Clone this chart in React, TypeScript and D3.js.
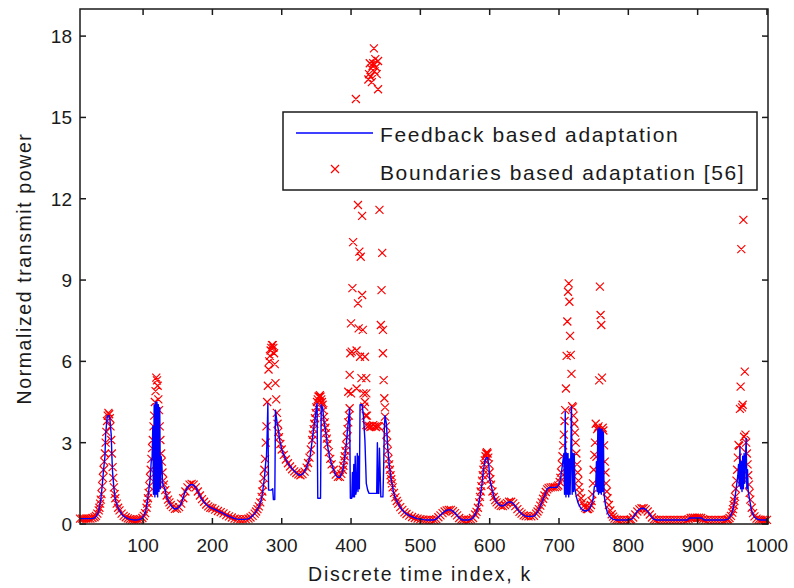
import React from "react";
import * as d3 from "d3";

// Feedback based adaptation: transmit power per discrete time index k
const feedbackPower: [number, number][] = [
  [9,0.2],[14,0.2],[18,0.2],[22,0.2],[26,0.2],[30,0.22],[33,0.3],[35,0.4],[37,0.6],[39,0.9],[41,1.4],[43,2.0],[45,2.5],[46,3.3],[47,3.6],[48,3.9],[49,4.0],[51,4.0],[52,3.9],[53,3.6],[54,3.3],[55,2.5],[56,1.9],[57,1.6],[58,1.3],[60,0.9],[63,0.65],[66,0.5],[70,0.33],[74,0.25],[78,0.2],[82,0.17],[86,0.15],[90,0.15],[94,0.16],[98,0.2],
  [101,0.3],[104,0.5],[106,0.8],[108,1.2],[110,1.6],[111,2.0],[112,2.4],[113,2.4],[114,3.6],[115,1.1],[116,4.4],[117,1.0],[118,4.5],[119,1.1],[120,4.5],[121,1.0],[122,4.4],[123,1.2],[124,4.3],[125,1.3],[126,2.5],[127,2.3],[128,1.6],[129,1.4],[131,1.35],[134,1.0],[138,0.78],[142,0.62],[146,0.55],[150,0.58],[154,0.7],[157,0.9],[160,1.15],[164,1.35],[168,1.45],[172,1.45],[176,1.35],[180,1.15],[184,0.95],[188,0.8],[192,0.7],[196,0.62],
  [200,0.58],[205,0.52],[210,0.46],[215,0.4],[220,0.33],[225,0.27],[230,0.22],[235,0.18],[240,0.17],[245,0.17],[250,0.18],[254,0.22],[258,0.3],[262,0.42],[265,0.55],[268,0.7],[271,0.95],[273,1.3],[275,1.7],[277,2.3],[278,2.5],[279,3.3],[280,4.45],[281,1.25],[285,1.25],[287,1.3],[288,0.9],[290,0.9],[291,4.2],[293,3.8],[295,3.5],[297,3.1],
  [300,2.75],[303,2.55],[306,2.38],[309,2.24],[313,2.1],[317,1.98],[321,1.88],[325,1.8],[329,1.82],[332,1.9],[335,2.05],[338,2.25],[341,2.5],[344,3.1],[346,3.5],[348,3.85],[350,4.33],[351,4.45],[352,0.95],[356,0.95],[357,4.4],[359,4.3],[361,3.8],[363,3.5],[365,3.1],[367,2.75],[369,2.48],[372,2.2],[375,2.0],[378,1.8],[381,1.72],[384,1.72],[387,1.9],[389,2.1],[391,2.5],[393,2.9],[395,3.5],[397,4.0],[398,4.27],[399,0.95],
  [401,0.95],[402,1.9],[403,1.0],[404,2.2],[405,1.0],[406,2.5],[407,1.1],[408,1.3],[409,2.6],[410,1.2],[411,2.5],[412,1.3],[413,4.4],[416,4.4],[418,3.96],[420,3.1],[422,1.5],[424,1.25],[426,1.13],[437,1.13],[438,3.0],[439,1.13],[440,1.13],[441,2.8],[443,1.0],[446,1.0],[447,2.0],[448,3.5],[449,4.0],[451,3.7],[453,2.8],[455,2.2],[457,1.8],[459,1.5],[461,1.2],[464,0.95],[468,0.75],[472,0.58],[476,0.45],[480,0.37],[485,0.3],[490,0.25],[495,0.2],
  [500,0.18],[505,0.16],[510,0.15],[515,0.15],[520,0.15],[524,0.2],[528,0.3],[532,0.4],[536,0.48],[540,0.52],[544,0.52],[548,0.45],[552,0.35],[556,0.22],[560,0.15],[565,0.15],[570,0.15],[575,0.2],[579,0.35],[583,0.6],[586,1.0],[589,1.5],[591,2.0],[593,2.3],[595,2.45],[597,2.45],[599,2.1],
  [600,1.65],[602,1.45],[604,1.2],[607,0.95],[610,0.8],[614,0.7],[618,0.66],[622,0.7],[626,0.8],[630,0.82],[634,0.75],[638,0.62],[642,0.48],[646,0.38],[650,0.3],[655,0.28],[660,0.28],[665,0.3],[669,0.45],[672,0.6],[676,0.85],[680,1.1],[683,1.3],[687,1.35],[692,1.35],[697,1.35],
  [700,1.45],[702,1.65],[704,2.0],[706,2.4],[707,2.6],[708,1.1],[709,4.14],[710,1.0],[711,2.6],[712,1.1],[713,2.6],[714,1.0],[715,2.4],[716,1.1],[717,2.5],[718,4.33],[719,1.1],[720,2.6],[721,1.2],[722,2.6],[723,1.3],[725,1.0],[728,0.75],[731,0.6],[735,0.5],[739,0.48],[743,0.52],[746,0.65],[749,0.9],[751,1.38],[753,1.4],[754,2.3],[755,1.2],[756,3.5],[757,1.1],[758,3.55],[759,1.15],[760,3.5],[761,1.1],[762,3.5],[763,1.2],[764,3.4],[765,1.1],[767,0.7],[770,0.4],[774,0.25],[778,0.17],[782,0.15],[786,0.15],[790,0.15],[795,0.15],
  [800,0.15],[805,0.18],[808,0.28],[811,0.4],[814,0.5],[818,0.57],[822,0.58],[826,0.52],[830,0.4],[833,0.28],[836,0.18],[840,0.15],[845,0.15],[850,0.15],[855,0.15],[860,0.15],[865,0.15],[870,0.15],[875,0.15],[880,0.15],[886,0.15],[888,0.22],[894,0.22],
  [900,0.22],[906,0.22],[909,0.15],[915,0.15],[920,0.15],[925,0.15],[930,0.15],[935,0.15],[940,0.15],[944,0.18],[947,0.28],[950,0.45],[953,0.8],[955,1.2],[957,1.6],[958,1.8],[959,2.2],[960,1.4],[961,2.85],[962,1.3],[963,2.3],[964,1.2],[965,2.5],[966,1.3],[967,2.6],[968,1.5],[969,2.4],[970,3.16],[971,1.3],[972,2.0],[973,1.2],[975,0.9],[977,0.6],[979,0.4],[982,0.25],[986,0.18],[990,0.15],[995,0.15],[1000,0.15],
];

// Boundaries based adaptation [56]: transmit power per discrete time index k
const boundaryPower: [number, number][] = [
  [9,0.2],[12,0.2],[15,0.2],[18,0.2],[21,0.2],[24,0.2],[27,0.22],[30,0.25],[32,0.3],[34,0.38],[36,0.5],[37,0.6],[38,0.75],[39,0.9],[40,1.1],[41,1.4],[42,1.7],[43,2.0],[44,2.3],[45,2.6],[46,3.0],[47,3.4],[48,3.8],[49,4.0],[50,4.1],[51,4.05],[52,3.9],[53,3.6],[54,3.1],[55,2.6],[56,2.1],[57,1.7],[58,1.35],[59,1.1],[60,0.95],[62,0.75],[64,0.6],[66,0.5],[69,0.38],[72,0.3],[75,0.25],[78,0.21],[81,0.18],[84,0.16],[87,0.15],[90,0.15],[93,0.16],[96,0.18],[99,0.22],
  [101,0.3],[103,0.4],[105,0.6],[106,0.75],[107,0.95],[108,1.15],[109,1.4],[110,1.7],[111,2.0],[112,2.4],[113,2.8],[114,3.1],[115,3.6],[116,4.0],[117,4.5],[118,4.9],[119,5.4],[120,5.3],[121,5.1],[122,4.6],[123,4.2],[124,3.6],[125,3.1],[126,2.6],[127,2.3],[128,1.9],[129,1.6],[130,1.45],[132,1.25],[134,1.05],[136,0.9],[138,0.8],[140,0.7],[143,0.62],[146,0.56],[149,0.57],[152,0.62],[155,0.75],[158,0.95],[161,1.2],[164,1.35],[167,1.45],[170,1.48],[173,1.45],[176,1.35],[179,1.2],[182,1.05],[185,0.92],[188,0.82],[191,0.72],[194,0.65],[197,0.6],
  [200,0.58],[204,0.53],[208,0.48],[212,0.44],[216,0.39],[220,0.33],[224,0.28],[228,0.24],[232,0.2],[236,0.18],[240,0.17],[244,0.17],[248,0.18],[252,0.2],[255,0.24],[258,0.3],[261,0.38],[263,0.46],[265,0.55],[267,0.65],[269,0.8],[271,1.0],[272,1.2],[273,1.45],[274,1.7],[275,2.0],[276,2.4],[277,3.0],[278,3.6],[279,4.5],[280,5.1],[281,5.7],[282,6.0],[283,6.2],[284,6.4],[285,6.5],[286,6.6],[287,6.6],[288,6.5],[289,6.3],[290,5.9],[291,5.2],[292,4.6],[293,4.1],[294,3.7],[295,3.4],[296,3.2],[298,2.95],
  [300,2.75],[303,2.55],[306,2.38],[309,2.24],[312,2.12],[315,2.02],[318,1.94],[321,1.88],[324,1.83],[327,1.8],[330,1.84],[333,1.93],[336,2.08],[338,2.25],[340,2.45],[342,2.75],[344,3.1],[345,3.3],[346,3.5],[347,3.7],[348,3.9],[349,4.1],[350,4.3],[351,4.5],[352,4.6],[353,4.7],[354,4.7],[355,4.75],[356,4.7],[357,4.6],[358,4.5],[359,4.4],[360,4.2],[361,3.95],[362,3.75],[363,3.55],[364,3.35],[365,3.15],[366,2.95],[368,2.65],[370,2.4],[372,2.2],[375,2.0],[378,1.82],[381,1.74],[384,1.74],[386,1.85],[388,2.0],[389,2.15],[390,2.35],[391,2.5],[392,2.7],[393,2.9],[394,3.2],[395,3.5],[396,3.75],[397,4.0],
  [422,3.65],[424,3.6],[426,3.62],[428,3.58],[430,3.6],[432,3.65],[434,3.6],[436,3.58],[438,3.62],[440,3.6],
  [450,3.6],[451,3.3],[452,3.0],[453,2.7],[454,2.4],[455,2.2],[456,2.0],[457,1.8],[458,1.65],[459,1.5],[460,1.35],[462,1.15],[464,0.98],[466,0.85],[468,0.75],[471,0.62],[474,0.52],[477,0.43],[480,0.37],[484,0.31],[488,0.26],[492,0.22],[496,0.2],
  [500,0.18],[504,0.16],[508,0.15],[512,0.15],[516,0.15],[520,0.15],[523,0.18],[526,0.25],[529,0.32],[532,0.4],[535,0.46],[538,0.5],[541,0.52],[544,0.52],[547,0.47],[550,0.4],[553,0.32],[556,0.22],[559,0.16],[562,0.15],[566,0.15],[570,0.15],[573,0.17],[576,0.22],[579,0.35],[581,0.45],[583,0.6],[585,0.8],[586,1.0],[587,1.2],[588,1.4],[589,1.6],[590,1.8],[591,2.0],[592,2.2],[593,2.35],[594,2.5],[595,2.6],[596,2.65],[597,2.6],[598,2.45],[599,2.2],
  [600,1.9],[601,1.65],[602,1.45],[604,1.2],[606,1.0],[608,0.88],[610,0.8],[613,0.72],[616,0.67],[619,0.66],[622,0.7],[625,0.77],[628,0.82],[631,0.82],[634,0.76],[637,0.66],[640,0.55],[643,0.45],[646,0.38],[649,0.32],[652,0.29],[656,0.28],[660,0.28],[664,0.3],[667,0.38],[669,0.46],[671,0.55],[673,0.68],[675,0.8],[677,0.93],[679,1.05],[681,1.18],[683,1.28],[685,1.33],[688,1.35],[691,1.36],[694,1.36],[697,1.38],[699,1.42],
  [701,1.55],[702,1.7],[703,1.9],[704,2.2],[705,2.5],[706,2.9],[707,3.3],[708,3.8],[709,4.2],[710,5.0],[711,6.2],[712,7.47],[713,8.57],[714,8.88],[715,8.2],[716,6.94],[717,6.24],[718,5.54],[719,4.35],[720,4.3],[721,4.0],[722,3.7],[723,3.37],[724,3.0],[725,2.6],[726,2.2],[727,1.9],[728,1.6],[729,1.35],[730,1.15],[732,0.95],[734,0.8],[736,0.68],[738,0.6],[740,0.55],[742,0.55],[744,0.6],[746,0.7],[747,0.85],[748,1.1],[749,1.5],[750,2.0],[751,2.55],[752,3.0],[753,3.7],[754,2.48],[755,3.5],[756,3.55],[757,3.6],[758,5.3],[759,8.76],[760,7.71],[761,7.34],[762,5.4],[763,3.55],[764,3.45],[765,2.9],[766,2.3],[767,1.9],[768,1.5],[769,1.2],[770,0.95],[772,0.7],[774,0.5],[776,0.36],[778,0.27],[780,0.2],[783,0.16],[786,0.15],[790,0.15],[794,0.15],[798,0.15],
  [802,0.15],[804,0.17],[807,0.24],[810,0.35],[813,0.46],[816,0.54],[819,0.58],[822,0.58],[825,0.54],[828,0.46],[831,0.35],[834,0.24],[837,0.17],[840,0.15],[844,0.15],[848,0.15],[852,0.15],[856,0.15],[860,0.15],[864,0.15],[868,0.15],[872,0.15],[876,0.15],[880,0.15],[884,0.15],[887,0.18],[890,0.22],[893,0.23],[896,0.23],[899,0.23],
  [902,0.23],[905,0.22],[908,0.18],[911,0.15],[915,0.15],[919,0.15],[923,0.15],[927,0.15],[931,0.15],[935,0.15],[939,0.15],[942,0.16],[944,0.17],[946,0.22],[948,0.3],[950,0.42],[951,0.55],[952,0.7],[953,0.85],[954,1.0],[955,1.3],[956,1.6],[957,2.0],[958,2.45],[959,2.92],[960,2.88],[961,4.25],[962,5.07],[963,10.14],[964,4.3],[965,4.4],[966,11.22],[967,3.22],[968,5.62],[969,3.3],[970,3.0],[971,2.6],[972,2.2],[973,1.8],[974,1.45],[975,1.15],[976,0.9],[978,0.6],[980,0.4],[982,0.28],[985,0.2],[988,0.16],[991,0.15],[994,0.15],[997,0.15],[1000,0.15],
];

// Boundaries based adaptation [56]: the burst between k = 396 and k = 450
const boundaryBurst: [number, number][] = [
  [396,4.88],[398,5.5],[398,4.27],[399,6.3],[400,4.82],[400,7.4],[401,6.36],[402,8.7],[403,10.4],[407,15.68],
  [408,5.0],[408,6.4],[410,11.77],[410,8.14],[411,7.22],[412,10.05],[413,6.17],[414,9.86],[415,5.38],[416,11.37],[416,8.45],[417,7.16],[418,4.82],[419,4.33],[420,6.17],[420,4.5],[421,4.0],[422,5.38],[422,4.82],[423,4.0],
  [425,16.4],[426,16.6],[427,17.0],[428,16.5],[429,16.8],[430,16.3],[431,16.9],[432,17.0],[433,17.55],[434,16.7],[435,17.15],[436,16.85],[437,16.6],[439,17.08],[439,16.04],
  [441,11.59],[443,7.34],[444,8.63],[445,10.0],[446,6.3],[446,7.16],[447,5.31],[448,4.64],[449,3.96],[449,4.3],
];

const xTicks = [100, 200, 300, 400, 500, 600, 700, 800, 900, 1000];
const yTicks = [0, 3, 6, 9, 12, 15, 18];

const seriesNames = ["Feedback based adaptation", "Boundaries based adaptation [56]"];
const xLabel = "Discrete time index, k";
const yLabel = "Normalized transmit power";

const W = 794;
const H = 588;
const left = 80;
const right = 768;
const top = 9;
const bottom = 524;

export default function App() {
  const x = d3.scaleLinear().domain([9, 1001.5]).range([left, right]);
  const y = d3.scaleLinear().domain([0, 19]).range([bottom, top]);

  const line = d3
    .line<[number, number]>()
    .x((d) => x(d[0]))
    .y((d) => y(d[1]));

  const s = 4;
  const cross = (cx: number, cy: number) =>
    `M${cx - s},${cy - s}L${cx + s},${cy + s}M${cx - s},${cy + s}L${cx + s},${cy - s}`;

  const markers = [...boundaryPower, ...boundaryBurst]
    .map((d) => cross(x(d[0]), y(d[1])))
    .join("");

  const tickLen = 6;
  const font = "'Liberation Sans', Arial, sans-serif";
  const ink = "#1a1a1a";

  return (
    <svg
      width={W}
      height={H}
      viewBox={`0 0 ${W} ${H}`}
      style={{ position: "absolute", left: 0, top: 0, background: "#fff" }}
      fontFamily={font}
    >
      <defs>
        <clipPath id="plot-area">
          <rect x={left} y={top} width={right - left} height={bottom - top} />
        </clipPath>
      </defs>

      <path d={markers} fill="none" stroke="#ff0000" strokeWidth={1.2} />
      <path
        d={line(feedbackPower) || ""}
        fill="none"
        stroke="#0000ff"
        strokeWidth={1.4}
        strokeLinejoin="round"
        clipPath="url(#plot-area)"
      />

      {/* axes box */}
      <rect x={left} y={top} width={right - left} height={bottom - top} fill="none" stroke={ink} strokeWidth={1.5} />

      {xTicks.map((t) => (
        <g key={`x${t}`}>
          <line x1={x(t)} x2={x(t)} y1={bottom} y2={bottom - tickLen} stroke={ink} strokeWidth={1.5} />
          <line x1={x(t)} x2={x(t)} y1={top} y2={top + tickLen} stroke={ink} strokeWidth={1.5} />
          <text x={x(t)} y={552} fontSize={19} textAnchor="middle" fill={ink}>
            {t}
          </text>
        </g>
      ))}
      {yTicks.map((t) => (
        <g key={`y${t}`}>
          <line x1={left} x2={left + tickLen} y1={y(t)} y2={y(t)} stroke={ink} strokeWidth={1.5} />
          <line x1={right} x2={right - tickLen} y1={y(t)} y2={y(t)} stroke={ink} strokeWidth={1.5} />
          <text x={72} y={y(t) + 7} fontSize={19} textAnchor="end" fill={ink}>
            {t}
          </text>
        </g>
      ))}

      <text x={(left + right) / 2 - 4} y={581} fontSize={19.5} letterSpacing={1.7} textAnchor="middle" fill={ink}>
        {xLabel}
      </text>
      <text
        transform={`translate(31,${(top + bottom) / 2 + 2}) rotate(-90)`}
        fontSize={19.5}
        letterSpacing={1.6}
        textAnchor="middle"
        fill={ink}
      >
        {yLabel}
      </text>

      {/* legend */}
      <g>
        <rect x={283} y={112} width={474} height={78} fill="#fff" stroke={ink} strokeWidth={1.5} />
        <line x1={296} x2={373} y1={133} y2={133} stroke="#0000ff" strokeWidth={1.4} />
        <text x={380} y={141.5} fontSize={21} letterSpacing={1.6} fill={ink}>
          {seriesNames[0]}
        </text>
        <path d={cross(335, 169)} fill="none" stroke="#ff0000" strokeWidth={1.2} />
        <text x={380} y={179.5} fontSize={21} letterSpacing={1.6} fill={ink}>
          {seriesNames[1]}
        </text>
      </g>
    </svg>
  );
}
